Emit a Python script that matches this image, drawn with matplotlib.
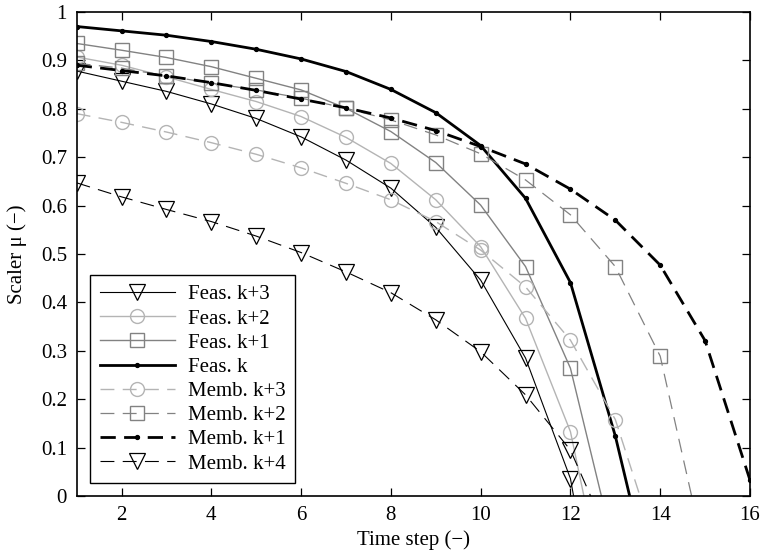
import matplotlib
matplotlib.use("Agg")
import matplotlib.pyplot as plt

plt.rcParams['font.family'] = ['Liberation Serif', 'DejaVu Serif']
plt.rcParams['lines.scale_dashes'] = False

# values; last point of most series is where the curve hits zero
feas_k3_x = [1, 2, 3, 4, 5, 6, 7, 8, 9, 10, 11, 12, 12.07]
feas_k3_y = [0.878, 0.857, 0.836, 0.810, 0.780, 0.742, 0.694, 0.636, 0.555, 0.446, 0.285, 0.036, 0.0]

feas_k2_x = [1, 2, 3, 4, 5, 6, 7, 8, 9, 10, 11, 12, 12.3]
feas_k2_y = [0.907, 0.890, 0.866, 0.840, 0.815, 0.784, 0.741, 0.687, 0.612, 0.515, 0.367, 0.133, 0.0]

feas_k1_x = [1, 2, 3, 4, 5, 6, 7, 8, 9, 10, 11, 12, 12.69]
feas_k1_y = [0.935, 0.921, 0.906, 0.887, 0.863, 0.839, 0.801, 0.753, 0.689, 0.601, 0.474, 0.264, 0.0]

feas_k_x = [1, 2, 3, 4, 5, 6, 7, 8, 9, 10, 11, 12, 13, 13.32]
feas_k_y = [0.970, 0.961, 0.952, 0.939, 0.923, 0.903, 0.877, 0.840, 0.792, 0.724, 0.615, 0.441, 0.124, 0.0]

memb_k3_x = [1, 2, 3, 4, 5, 6, 7, 8, 9, 10, 11, 12, 13, 13.55]
memb_k3_y = [0.790, 0.772, 0.752, 0.730, 0.706, 0.678, 0.646, 0.612, 0.567, 0.508, 0.432, 0.322, 0.158, 0.0]

memb_k2_x = [1, 2, 3, 4, 5, 6, 7, 8, 9, 10, 11, 12, 13, 14, 14.7]
memb_k2_y = [0.894, 0.884, 0.868, 0.853, 0.839, 0.822, 0.801, 0.777, 0.746, 0.707, 0.653, 0.581, 0.474, 0.289, 0.0]

memb_k1_x = [1, 2, 3, 4, 5, 6, 7, 8, 9, 10, 11, 12, 13, 14, 15, 16]
memb_k1_y = [0.890, 0.879, 0.868, 0.854, 0.838, 0.820, 0.802, 0.781, 0.755, 0.722, 0.686, 0.634, 0.570, 0.477, 0.321, 0.033]

memb_k4_x = [1, 2, 3, 4, 5, 6, 7, 8, 9, 10, 11, 12, 12.45]
memb_k4_y = [0.647, 0.618, 0.592, 0.567, 0.537, 0.503, 0.463, 0.420, 0.364, 0.298, 0.209, 0.095, 0.0]

light = '#b4b4b4'
mid = '#828282'

fig = plt.figure(figsize=(7.61, 5.58), dpi=100)
ax = fig.add_axes([0.1008, 0.1111, 0.8847, 0.8674])


def marks(xs):
    # markers only on whole time steps
    return [i for i, v in enumerate(xs) if float(v).is_integer()]


ax.plot(feas_k3_x, feas_k3_y, color='black', lw=0.8, marker='v', ms=11, mfc='none',
        mew=0.9, markevery=marks(feas_k3_x), label='Feas. k+3')
ax.plot(feas_k2_x, feas_k2_y, color=light, lw=1.0, marker='o', ms=10, mfc='none',
        mew=1.0, markevery=marks(feas_k2_x), label='Feas. k+2')
ax.plot(feas_k1_x, feas_k1_y, color=mid, lw=1.0, marker='s', ms=9.5, mfc='none',
        mew=1.0, markevery=marks(feas_k1_x), label='Feas. k+1')
ax.plot(feas_k_x, feas_k_y, color='black', lw=2.0, marker='o', ms=2.8,
        markevery=marks(feas_k_x), label='Feas. k')
ax.plot(memb_k3_x, memb_k3_y, color=light, lw=1.0, marker='o', ms=10, mfc='none',
        mew=1.0, dashes=(10, 6), markevery=marks(memb_k3_x), label='Memb. k+3')
ax.plot(memb_k2_x, memb_k2_y, color=mid, lw=0.9, marker='s', ms=9.5, mfc='none',
        mew=1.0, dashes=(10, 6), markevery=marks(memb_k2_x), label='Memb. k+2')
ax.plot(memb_k1_x, memb_k1_y, color='black', lw=2.0, marker='o', ms=2.8,
        dashes=(11, 6), markevery=marks(memb_k1_x), label='Memb. k+1')
ax.plot(memb_k4_x, memb_k4_y, color='black', lw=0.8, marker='v', ms=11, mfc='none',
        mew=0.9, dashes=(10, 6), markevery=marks(memb_k4_x), label='Memb. k+4')

ax.set_xlim(1, 16)
ax.set_ylim(0, 1)
ax.set_xticks(range(2, 17, 2))
ax.set_yticks([i / 10 for i in range(11)])
ax.set_yticklabels(['0'] + ['%.1f' % (i / 10) for i in range(1, 10)] + ['1'])
ax.tick_params(direction='in', top=True, right=True, labelsize=15, length=6, width=0.9, pad=7)
for s in ax.spines.values():
    s.set_linewidth(1.2)

ax.set_xlabel('Time step (\u2212)', fontsize=15, labelpad=4)
ax.set_ylabel('Scaler \u03bc (\u2212)', fontsize=15, labelpad=10)

leg = ax.legend(loc='lower left', bbox_to_anchor=(0.02, 0.027), fontsize=15,
                frameon=True, fancybox=False, framealpha=1, edgecolor='black',
                handlelength=3.6, handletextpad=0.65, borderpad=0.45,
                labelspacing=0.22, borderaxespad=0)
leg.get_frame().set_linewidth(1.0)

fig.savefig('out.png', dpi=100)
